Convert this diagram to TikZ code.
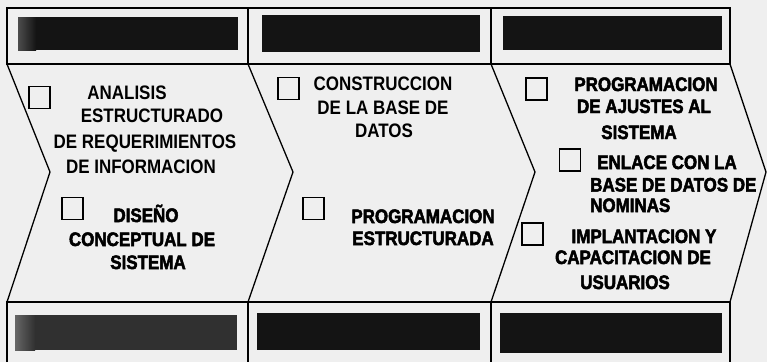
\documentclass[tikz,border=0pt]{standalone}
\usepackage{fontspec}
\setmainfont{Liberation Sans}
\newfontfamily\lblfont[FakeStretch=0.87]{Liberation Sans Bold}
\newfontfamily\heavyfont[FakeStretch=0.87, FakeBold=2.5]{Liberation Sans Bold}
\definecolor{bgc}{HTML}{EFEFEF}
\definecolor{barc}{HTML}{141414}
\tikzset{
  frame/.style={line width=1.3pt, line join=miter},
  barfill/.style={fill=barc},
  chk/.style={draw, line width=1.2pt, minimum width=21pt, minimum height=22pt, inner sep=0pt},
  txt/.style={font=\fontsize{19.5}{22}\selectfont\lblfont, text height=14pt, text depth=0pt, inner sep=0pt},
  heavytxt/.style={font=\fontsize{19.5}{22}\selectfont\heavyfont, text height=14pt, text depth=0pt, inner sep=0pt},
}
\begin{document}
\begin{tikzpicture}[x=1pt,y=-1pt]
\useasboundingbox (0,0) rectangle (767,362);
\fill[bgc] (0,0) rectangle (767,362);
% dark bars
\fill[barfill] (18,17) rectangle (238,50);
\shade[left color=black!70, right color=barc, shading angle=90] (18,17) rectangle (36,50);
\fill[barfill] (262,15) rectangle (480,52);
\fill[barfill] (503,16) rectangle (722,50);
\fill[barc!88!white] (15,315) rectangle (237,350);
\shade[left color=black!60, right color=barc!88!white, shading angle=90] (15,315) rectangle (35,350);
\fill[barfill] (257,313) rectangle (480,350);
\fill[barfill] (500,313) rectangle (722,353);
% top boxes
\draw[frame] (7,8) rectangle (248,64);
\draw[frame] (248,8) rectangle (491,64);
\draw[frame] (491,8) rectangle (730,64);
% bottom boxes
\draw[frame] (7,362) -- (7,302) -- (730,302) -- (730,362);
\draw[frame] (248,302) -- (248,362);
\draw[frame] (491,302) -- (491,362);
% chevrons
\draw[frame] (7,64) -- (50,172) -- (7,302);
\draw[frame] (248,64) -- (293,172) -- (248,302);
\draw[frame] (491,64) -- (535,172) -- (491,302);
\draw[frame] (730,64) -- (766,172) -- (730,302);
% checkboxes
\node[chk] (c1a) at (39.5,97.5) {};
\node[chk] (c1b) at (72.5,208.5) {};
\node[chk] (c2a) at (288.5,88.5) {};
\node[chk] (c2b) at (313.5,208.5) {};
\node[chk] (c3a) at (536.5,89) {};
\node[chk] (c3b) at (570,160) {};
\node[chk] (c3c) at (532.5,234) {};
% box 1 texts
\node[txt] (t1a) at (127,92) {ANALISIS};
\node[txt] (t1b) at (152,115) {ESTRUCTURADO};
\node[txt] (t1c) at (145,141) {DE REQUERIMIENTOS};
\node[txt] (t1d) at (141,166) {DE INFORMACION};
\node[heavytxt] (t1e) at (146,215) {DISEÑO};
\node[heavytxt] (t1f) at (142,239) {CONCEPTUAL DE};
\node[heavytxt] (t1g) at (148,262) {SISTEMA};
% box 2 texts
\node[txt] (t2a) at (383,83) {CONSTRUCCION};
\node[txt] (t2b) at (383,107) {DE LA BASE DE};
\node[txt] (t2c) at (384,130) {DATOS};
\node[heavytxt] (t2d) at (423,216) {PROGRAMACION};
\node[heavytxt] (t2e) at (423,238) {ESTRUCTURADA};
% box 3 texts
\node[heavytxt] (t3a) at (646,84) {PROGRAMACION};
\node[heavytxt] (t3b) at (644,106) {DE AJUSTES AL};
\node[heavytxt] (t3c) at (639,132) {SISTEMA};
\node[heavytxt] (t3d) at (667,162) {ENLACE CON LA};
\node[heavytxt, anchor=west] (t3e) at (590,184.5) {BASE DE DATOS DE};
\node[heavytxt, anchor=west] (t3f) at (590,205) {NOMINAS};
\node[heavytxt] (t3g) at (644,236) {IMPLANTACION Y};
\node[heavytxt] (t3h) at (633,257) {CAPACITACION DE};
\node[heavytxt] (t3i) at (625,282) {USUARIOS};
\end{tikzpicture}
\end{document}
